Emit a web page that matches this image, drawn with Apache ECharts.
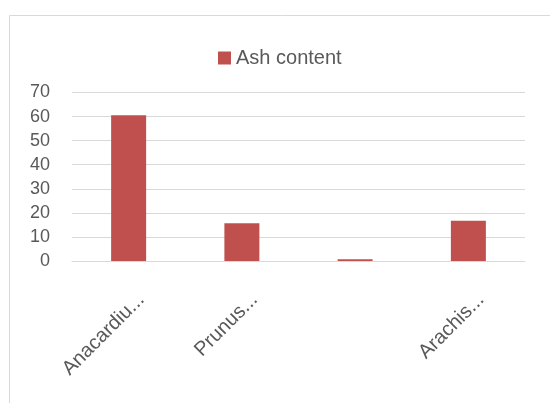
<!DOCTYPE html>
<html><head><meta charset="utf-8">
<script src="https://cdn.jsdelivr.net/npm/echarts@6/dist/echarts.min.js"></script>
<style>html,body{margin:0;padding:0;background:#fff}#c{width:550px;height:403px}</style>
</head><body><div id="c"></div>
<script>
var categories = ["Anacardiu...", "Prunus...", "", "Arachis..."];
var ashContent = [60.6, 15.7, 0.7, 16.7];
var seriesName = "Ash content";
var yTicks = [0, 10, 20, 30, 40, 50, 60, 70];

var chart = echarts.init(document.getElementById('c'));
var font = 'Liberation Sans';
chart.setOption({
  animation: false,
  backgroundColor: '#fff',
  graphic: [{type: 'rect', shape: {x: 9.5, y: 15.5, width: 560, height: 420}, style: {fill: 'none', stroke: '#d9d9d9', lineWidth: 1}, silent: true}],
  legend: {
    data: [seriesName], top: 43, left: 213, itemWidth: 13, itemHeight: 13, itemGap: 6,
    icon: 'rect',
    textStyle: {fontFamily: font, fontSize: 20, color: '#595959', padding: [0,0,0,0]}
  },
  grid: {left: 72, right: 25, top: 92.5, bottom: 142},
  xAxis: {
    type: 'category', data: categories,
    axisLine: {show: true, lineStyle: {color: '#d9d9d9', width: 1}},
    axisTick: {show: false},
    axisLabel: {rotate: 45, interval: 0, fontFamily: font, fontSize: 20, color: '#595959', margin: 23, verticalAlign: 'top', padding: [8, 0, 0, 0]}
  },
  yAxis: {
    type: 'value', min: yTicks[0], max: yTicks[yTicks.length-1], interval: 10,
    axisLine: {show: false}, axisTick: {show: false},
    splitLine: {lineStyle: {color: '#d9d9d9', width: 1}},
    axisLabel: {fontFamily: font, fontSize: 18, color: '#595959', margin: 22}
  },
  series: [{
    name: seriesName, type: 'bar', data: ashContent, barWidth: 35,
    itemStyle: {color: '#C0504D'}
  }]
});
</script></body></html>
